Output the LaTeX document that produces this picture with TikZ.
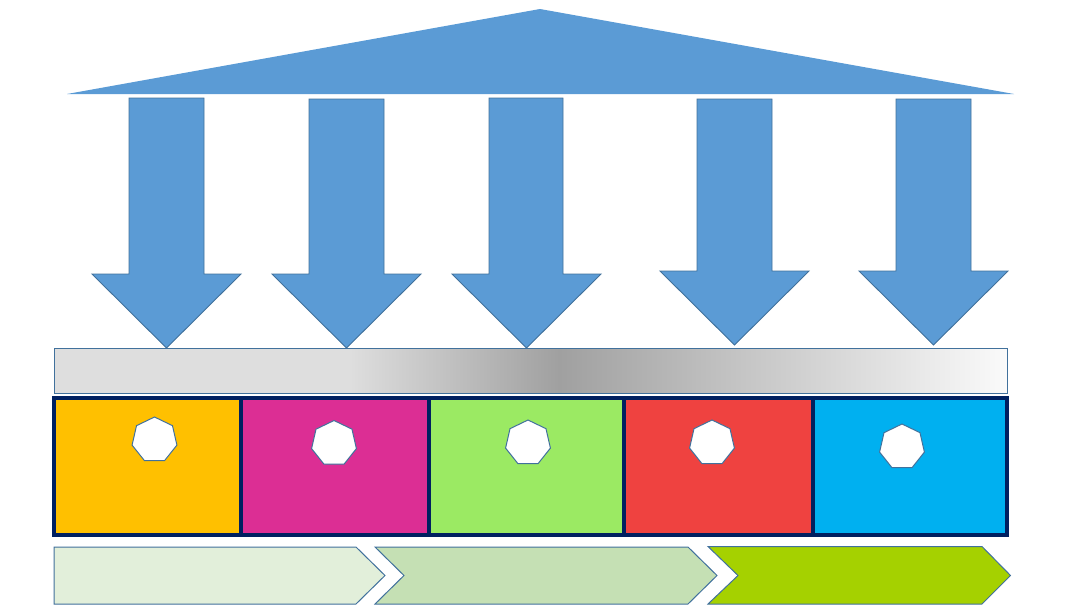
\documentclass[tikz,border=0pt]{standalone}
\usetikzlibrary{calc}
\definecolor{roofblue}{HTML}{5B9BD5}
\definecolor{edgeblue}{HTML}{41719C}
\definecolor{navy}{HTML}{002060}
\definecolor{cyellow}{HTML}{FFC000}
\definecolor{cmagenta}{HTML}{DC2E94}
\definecolor{cgreen}{HTML}{9BEA63}
\definecolor{cred}{HTML}{EF4240}
\definecolor{cblue}{HTML}{00B0F0}
\definecolor{chev1}{HTML}{E2EFDA}
\definecolor{chev2}{HTML}{C5E0B4}
\definecolor{chev3}{HTML}{A5D100}
\definecolor{barlight}{HTML}{DEDEDE}
\definecolor{bardark}{HTML}{A0A0A0}
\definecolor{barend}{HTML}{FAFAFA}
\pgfdeclarehorizontalshading{barshade}{100bp}{%
  color(0bp)=(barlight);
  color(25bp)=(barlight);
  color(40.5bp)=(barlight);
  color(51.5bp)=(bardark);
  color(75bp)=(barend);
  color(100bp)=(barend)}
\tikzset{
  arrowshape/.style={fill=roofblue, draw=edgeblue, line width=0.9pt, line join=miter},
  colbox/.style={draw=navy, line width=4pt},
  hept/.style={fill=white, draw=edgeblue, line width=1pt},
  chevshape/.style={draw=edgeblue, line width=1pt},
}
% down arrow: shaft left, shaft right, top, shoulder, head left, head right, tip y, name
\newcommand{\downarrowshape}[8]{%
  \path[arrowshape] (#1,#3) -- (#2,#3) -- (#2,#4) -- (#6,#4) -- ({(#5+#6)/2},#7)
    -- (#5,#4) -- (#1,#4) -- cycle;
  \coordinate (#8) at ({(#5+#6)/2},#7);}
\newcommand{\heptagon}[4]{%
  \path[hept] ($(#1,#2)+(-90:#3)$)
    \foreach \k in {1,...,6} { -- ($(#1,#2)+({-90+\k*360/7}:#3)$) } -- cycle;
  \coordinate (#4) at (#1,#2);}
\begin{document}
\begin{tikzpicture}[x=1pt,y=-1pt]
\useasboundingbox (0,0) rectangle (1080,608);
% roof
\path[fill=roofblue] (67,94) -- (540,9) -- (1014,94) -- cycle;
\coordinate (roof) at (540,60);
% arrows
\downarrowshape{129}{204}{98}{274}{92}{241}{348}{a1}
\downarrowshape{309}{384}{99}{274}{272}{421}{348}{a2}
\downarrowshape{489}{563}{98}{274}{452}{601}{348}{a3}
\downarrowshape{697}{772}{99}{271}{660}{809}{345}{a4}
\downarrowshape{896}{971}{99}{271}{859}{1008}{345}{a5}
% gradient bar
\path[shading=barshade, draw=edgeblue, line width=1pt] (54,348.5) rectangle (1007,393);
% coloured boxes
\path[colbox, fill=cyellow]  (54,398) rectangle (240.5,535);
\path[colbox, fill=cmagenta] (240.5,398) rectangle (429,535);
\path[colbox, fill=cgreen]   (429,398) rectangle (624,535);
\path[colbox, fill=cred]     (624,398) rectangle (813,535);
\path[colbox, fill=cblue]    (813,398) rectangle (1007,535);
% heptagons
\heptagon{154.5}{440}{23}{h1}
\heptagon{334}{443.5}{23}{h2}
\heptagon{528}{443}{23}{h3}
\heptagon{712}{443}{23}{h4}
\heptagon{902}{447}{23}{h5}
% chevrons
\path[chevshape, fill=chev1] (54,547) -- (356,547) -- (385,575.5) -- (356,604) -- (54,604) -- cycle;
\path[chevshape, fill=chev2] (375,547) -- (688,547) -- (717,575.5) -- (688,604) -- (375,604) -- (404,575.5) -- cycle;
\path[chevshape, fill=chev3] (708,546.5) -- (982,546.5) -- (1010.5,575.5) -- (982,604) -- (708,604) -- (738,575.5) -- cycle;
\end{tikzpicture}
\end{document}
